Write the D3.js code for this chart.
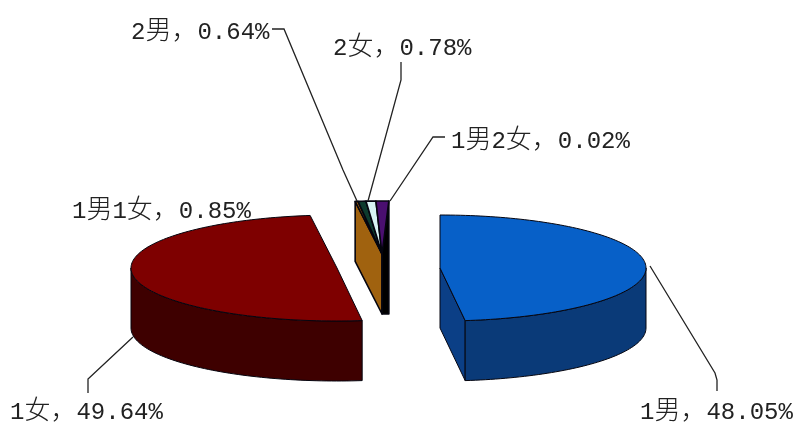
<!DOCTYPE html>
<html>
<head>
<meta charset="utf-8">
<script src="https://cdn.jsdelivr.net/npm/d3@7"></script>
<style>
  html, body { margin: 0; padding: 0; background: #fff; }
  svg { display: block; filter: blur(0.4px); }
  text { font-family: "Liberation Mono", "Noto Sans CJK SC", monospace; font-size: 24px; fill: #222; }
  .wide { font-family: "Noto Sans CJK SC", sans-serif; font-size: 26px; font-weight: 300; }
</style>
</head>
<body>
<div id="chart"></div>
<script>
const width = 795;
const height = 427;

// Text as printed on the chart
const categories = ["1男", "1女", "1男1女", "2男", "2女", "1男2女"];
const percents = [48.05, 49.64, 0.85, 0.64, 0.78, 0.02];

// Slice sizes as drawn (the small ones are not to scale with their labels)
const drawnShares = [48.05, 49.87, 0.22, 0.62, 0.77, 1.0];

const topColors = ["#0760c8", "#7e0000", "#a5640f", "#0d3b2e", "#d8f4f4", "#4a0f70"];
const wallColors = ["#0b3f86", "#3e0000", "#a0620f", "#0d3b2e", "#000000", "#000000"];
const outerColors = ["#0a3a78", "#3e0000", "#a0620f", "#0d3b2e", "#000000", "#000000"];

const svg = d3.select("#chart")
  .append("svg")
  .attr("width", width)
  .attr("height", height);

// Flattened pie: ellipse radii and wall height
const rx = 206;
const ry = 53;
const depth = 60;

// Where each slice's tip ends up once exploded
const tips = [[440, 268], [337, 268], [382, 254], [382, 254], [382, 254], [382, 254]];

// The drawn shares run slightly past 100, which d3.pie would squeeze, so use a scale
const angle = d3.scaleLinear().domain([0, 100]).range([0, 2 * Math.PI]);
const ends = Array.from(d3.cumsum(drawnShares));
const arcs = drawnShares.map((d, i) => ({
  index: i,
  startAngle: angle(i === 0 ? 0 : ends[i - 1]),
  endAngle: angle(ends[i])
}));

function rimX(a) { return rx * Math.sin(a); }
function rimY(a) { return -ry * Math.cos(a); }

// Elliptical rim from a0 to a1, as a list of points
function rim(a0, a1) {
  const steps = Math.max(2, Math.ceil((a1 - a0) * 40));
  return d3.range(steps + 1).map(i => {
    const a = a0 + (a1 - a0) * i / steps;
    return [rimX(a), rimY(a)];
  });
}

const line = d3.line();

const slices = svg.selectAll(".slice")
  .data(arcs)
  .enter()
  .append("g")
  .attr("class", "slice")
  .attr("transform", d => `translate(${tips[d.index][0]},${tips[d.index][1]})`)
  .attr("stroke", "#05050f")
  .attr("stroke-linejoin", "round")
  .attr("stroke-width", d => d.index > 1 ? 1.6 : 1);

slices.each(function(d) {
  const g = d3.select(this);
  const a0 = d.startAngle;
  const a1 = d.endAngle;

  // Cut walls that face the viewer
  if (d.index === 0) {
    g.append("path")
      .attr("d", line([[0, 0], [rimX(a1), rimY(a1)], [rimX(a1), rimY(a1) + depth], [0, depth]]) + "Z")
      .attr("fill", wallColors[d.index]);
  }
  if (d.index === 2) {
    g.append("path")
      .attr("d", line([[0, 0], [rimX(a0), rimY(a0)], [rimX(a0), rimY(a0) + depth], [0, depth]]) + "Z")
      .attr("fill", wallColors[d.index]);
  }
  if (d.index === 5) {
    // the black strip on the right runs straight down to the foot of the tip
    g.append("path")
      .attr("d", line([[0, 0], [rimX(a1), rimY(a1)], [rimX(a1), depth], [0, depth]]) + "Z")
      .attr("fill", wallColors[d.index]);
  }

  // Outer wall, only the front half of the ellipse
  const f0 = Math.max(a0, Math.PI / 2);
  const f1 = Math.min(a1, 3 * Math.PI / 2);
  if (f1 > f0) {
    const upper = rim(f0, f1);
    const lower = upper.map(p => [p[0], p[1] + depth]).reverse();
    g.append("path")
      .attr("d", line(upper.concat(lower)) + "Z")
      .attr("fill", outerColors[d.index]);
  }

  // Top face
  g.append("path")
    .attr("d", line([[0, 0]].concat(rim(a0, a1))) + "Z")
    .attr("fill", topColors[d.index]);
});

// Leader lines
const leaders = [
  [[650, 266], [715, 373], [717, 380], [717, 391]],
  [[133, 337], [88, 379], [88, 393]],
  [[272, 29], [284, 29], [343, 170], [357, 201]],
  [[401, 62], [401, 80], [368, 201]],
  [[445, 137], [433, 137], [390, 201]]
];

svg.selectAll(".leader")
  .data(leaders)
  .enter()
  .append("path")
  .attr("class", "leader")
  .attr("d", d => line(d))
  .attr("fill", "none")
  .attr("stroke", "#222")
  .attr("stroke-width", 1.3);

// Data labels: [x, baseline y] in the order of the categories
const labelPos = [[640, 419], [10, 419], [72, 218], [131, 39], [333, 55], [451, 148]];

const labels = svg.selectAll(".label")
  .data(categories)
  .enter()
  .append("text")
  .attr("class", "label")
  .attr("x", (d, i) => labelPos[i][0])
  .attr("y", (d, i) => labelPos[i][1]);

// Chinese characters and the comma are set a little larger than the digits
labels.each(function(d, i) {
  const parts = `${d}，${percents[i].toFixed(2)}%`.match(/[男女，]+|[^男女，]+/g);
  d3.select(this).selectAll("tspan")
    .data(parts)
    .enter()
    .append("tspan")
    .attr("class", p => /[男女，]/.test(p) ? "wide" : null)
    .text(p => p);
});
</script>
</body>
</html>
